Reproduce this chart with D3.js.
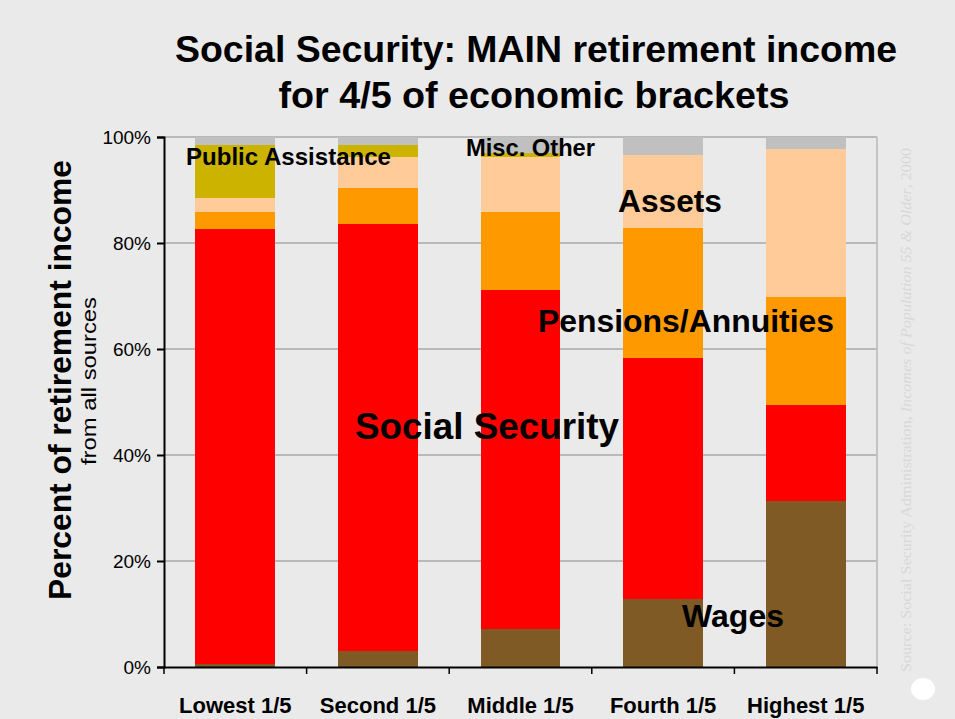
<!DOCTYPE html>
<html>
<head>
<meta charset="utf-8">
<script src="https://cdn.jsdelivr.net/npm/d3@7"></script>
<style>
  html, body { margin: 0; padding: 0; background: #EAEAEA; }
  svg { display: block; font-family: "Liberation Sans", Arial, sans-serif; }
</style>
</head>
<body>
<svg id="chart" width="955" height="719"></svg>
<script>
// Income brackets (quintiles of the population 55 and older)
const categories = ["Lowest 1/5", "Second 1/5", "Middle 1/5", "Fourth 1/5", "Highest 1/5"];

// Share of retirement income by source, percent
const wages            = [0.6, 3.0, 7.2, 12.8, 31.3];
const socialSecurity   = [82.1, 80.6, 64.0, 45.5, 18.1];
const pensions         = [3.2, 6.8, 14.7, 24.5, 20.4];
const assets           = [2.5, 5.9, 10.4, 13.8, 27.9];
const publicAssistance = [10.0, 2.1, 0.6, 0.0, 0.0];
const miscOther        = [1.6, 1.6, 3.1, 3.4, 2.3];

const yTicks = [0, 20, 40, 60, 80, 100];
const yTickLabels = ["0%", "20%", "40%", "60%", "80%", "100%"];

const seriesKeys = ["wages", "socialSecurity", "pensions", "assets", "publicAssistance", "miscOther"];
const seriesColors = {
  wages: "#7F5A24",
  socialSecurity: "#FF0000",
  pensions: "#FF9900",
  assets: "#FFCC99",
  publicAssistance: "#CCB300",
  miscOther: "#C0C0C0"
};

const rows = categories.map((c, i) => ({
  category: c,
  wages: wages[i],
  socialSecurity: socialSecurity[i],
  pensions: pensions[i],
  assets: assets[i],
  publicAssistance: publicAssistance[i],
  miscOther: miscOther[i]
}));

const svg = d3.select("#chart");
const plot = { left: 164, right: 877, top: 137, bottom: 667 };

const x = d3.scaleBand()
  .domain(categories)
  .range([plot.left, plot.right])
  .paddingInner(0.44)
  .paddingOuter(0.22);

const y = d3.scaleLinear()
  .domain([0, 100])
  .range([plot.bottom, plot.top]);

// Stretch or squeeze a text node to a given width
function fit(sel, w) {
  sel.attr("textLength", w).attr("lengthAdjust", "spacingAndGlyphs");
  return sel;
}

// Gridlines
svg.append("g")
  .selectAll("line")
  .data(yTicks.filter(t => t > 0))
  .join("line")
  .attr("x1", plot.left)
  .attr("x2", plot.right)
  .attr("y1", d => y(d))
  .attr("y2", d => y(d))
  .attr("stroke", "#A8A8A8")
  .attr("stroke-width", 1.5);

// Right frame edge
svg.append("line")
  .attr("x1", plot.right).attr("x2", plot.right)
  .attr("y1", plot.top).attr("y2", plot.bottom)
  .attr("stroke", "#C4C4C4")
  .attr("stroke-width", 2);

// Stacked bars
const stacked = d3.stack().keys(seriesKeys)(rows);
svg.append("g")
  .selectAll("g")
  .data(stacked)
  .join("g")
  .attr("fill", d => seriesColors[d.key])
  .selectAll("rect")
  .data(d => d)
  .join("rect")
  .attr("x", d => x(d.data.category))
  .attr("width", x.bandwidth())
  .attr("y", d => y(d[1]))
  .attr("height", d => y(d[0]) - y(d[1]))
  .attr("shape-rendering", "crispEdges");

// Y axis
const yAxis = svg.append("g")
  .attr("transform", `translate(${plot.left},0)`)
  .call(d3.axisLeft(y)
    .tickValues(yTicks)
    .tickFormat((d, i) => yTickLabels[i])
    .tickSize(7)
    .tickPadding(6));
yAxis.select(".domain").attr("stroke", "#000").attr("stroke-width", 2);
yAxis.selectAll(".tick line").attr("stroke", "#000").attr("stroke-width", 2);
yAxis.selectAll(".tick text")
  .attr("font-family", "'Liberation Sans Narrow', 'Liberation Sans', Arial, sans-serif")
  .attr("font-size", 19)
  .attr("fill", "#000");

// X axis
const xAxis = svg.append("g")
  .attr("transform", `translate(0,${plot.bottom})`)
  .call(d3.axisBottom(x).tickSize(0).tickPadding(30));
xAxis.select(".domain").attr("stroke", "#000").attr("stroke-width", 2);
xAxis.selectAll(".tick text")
  .attr("font-family", "'Liberation Sans Narrow', 'Liberation Sans', Arial, sans-serif")
  .attr("font-weight", "bold")
  .attr("font-size", 22)
  .attr("fill", "#000");
// Separator ticks between brackets
const edges = categories.map(c => x(c) - x.step() * x.paddingInner() / 2).concat([plot.right]);
xAxis.selectAll(".sep")
  .data(edges)
  .join("line")
  .attr("class", "sep")
  .attr("x1", d => d).attr("x2", d => d)
  .attr("y1", 0).attr("y2", 7)
  .attr("stroke", "#000")
  .attr("stroke-width", 1.5);

// Title
const title = svg.append("g")
  .attr("font-weight", "bold")
  .attr("font-size", 37)
  .attr("text-anchor", "middle")
  .attr("fill", "#000");
fit(title.append("text").attr("x", 536).attr("y", 62).text("Social Security: MAIN retirement income"), 722);
fit(title.append("text").attr("x", 534).attr("y", 108).text("for 4/5 of economic brackets"), 511);

// Y axis titles
fit(svg.append("text")
  .attr("transform", "translate(71,380) rotate(-90)")
  .attr("text-anchor", "middle")
  .attr("font-weight", "bold")
  .attr("font-size", 31)
  .text("Percent of retirement income"), 440);
fit(svg.append("text")
  .attr("transform", "translate(96,381) rotate(-90)")
  .attr("text-anchor", "middle")
  .attr("font-family", "'Liberation Sans Narrow', 'Liberation Sans', Arial, sans-serif")
  .attr("font-size", 20)
  .text("from all sources"), 168);

// Series annotations
const notes = [
  { text: "Public Assistance", x: 186, y: 165, size: 24, w: 205 },
  { text: "Misc. Other",       x: 466, y: 156, size: 24, w: 129 },
  { text: "Assets",            x: 618, y: 212, size: 32, w: 104 },
  { text: "Pensions/Annuities",x: 538, y: 332, size: 32, w: 296 },
  { text: "Social Security",   x: 355, y: 439, size: 37, w: 264 },
  { text: "Wages",             x: 682, y: 627, size: 32, w: 102 }
];
svg.append("g")
  .selectAll("text")
  .data(notes)
  .join("text")
  .attr("x", d => d.x)
  .attr("y", d => d.y)
  .attr("font-weight", "bold")
  .attr("font-size", d => d.size)
  .attr("fill", "#000")
  .attr("textLength", d => d.w)
  .attr("lengthAdjust", "spacingAndGlyphs")
  .text(d => d.text);

// Source credit, running up the right edge
const src = svg.append("text")
  .attr("transform", "translate(911,672) rotate(-90)")
  .attr("font-family", "'Liberation Serif', 'Times New Roman', serif")
  .attr("font-size", 15)
  .attr("fill", "#D8D8D8");
src.append("tspan").text("Source: Social Security Administration, ");
src.append("tspan").attr("font-style", "italic").text("Incomes of Population 55 & Older");
src.append("tspan").text(", 2000");
fit(src, 524);

// Corner marker
svg.append("ellipse")
  .attr("cx", 923).attr("cy", 689)
  .attr("rx", 12).attr("ry", 11)
  .attr("fill", "#FFFFFF");
</script>
</body>
</html>
